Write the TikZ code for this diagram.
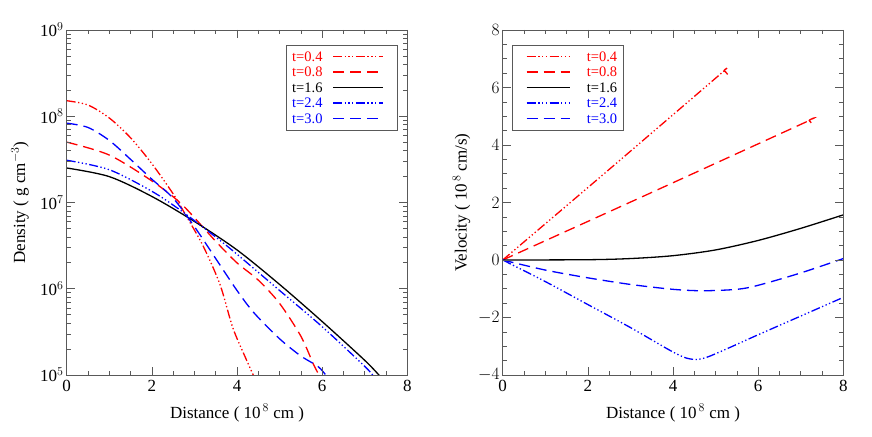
\documentclass[tikz,border=0pt]{standalone}
\usepackage{fontspec}
\setmainfont{Liberation Serif}
\usetikzlibrary{positioning}
\tikzset{
  curve/.style={line width=1.3pt},
  ddot/.style={curve, dash pattern=on 9pt off 2.5pt on 1.3pt off 2.5pt on 1.3pt off 2.5pt on 1.3pt off 2.5pt},
  ldash/.style={curve, dash pattern=on 11pt off 6pt},
  axis/.style={line width=0.6pt, gray!70!black},
  ticklab/.style={font=\fontsize{17}{19}\selectfont, inner sep=1pt},
  axlab/.style={font=\fontsize{17}{19}\selectfont},
  legtext/.style={font=\fontsize{14.5}{16}\selectfont, inner sep=0pt, anchor=west}
}
\begin{document}
\begin{tikzpicture}[x=1pt,y=1pt]
\useasboundingbox (0,0) rectangle (872,436);

% density panel
\begin{scope}[shift={(66.7pt,61pt)}, x=42.575pt, y=86.25pt]
  \begin{scope}
    \clip (0,0) rectangle (8,4);
    \draw[ddot, red] plot[smooth, tension=0.5] coordinates {(0,3.18) (0.5,3.13) (1,2.98) (1.5,2.75) (2,2.45) (2.5,2.1) (2.8,1.85) (3.2,1.5) (3.6,1.05) (3.9,0.55) (4.2,0.2) (4.4,-0.02)};
    \draw[ldash, red] plot[smooth, tension=0.5] coordinates {(0,2.7) (1,2.55) (2,2.25) (2.7,1.98) (3.5,1.55) (4,1.3) (4.5,1.1) (5,0.83) (5.5,0.45) (5.8,0.12) (5.95,-0.02)};
    \draw[curve, black] plot[smooth, tension=0.5] coordinates {(0,2.4) (1,2.3) (2,2.07) (3,1.78) (4,1.45) (5,1.05) (6,0.62) (7,0.17) (7.35,-0.01)};
    \draw[ddot, blue] plot[smooth, tension=0.5] coordinates {(0,2.49) (1,2.38) (2,2.13) (2.7,1.9) (3.5,1.6) (4,1.4) (5,0.98) (6,0.56) (7,0.1) (7.2,-0.01)};
    \draw[ldash, blue] plot[smooth, tension=0.5] coordinates {(0,2.92) (0.5,2.87) (1,2.72) (1.5,2.5) (2,2.27) (2.5,2.05) (3,1.72) (3.5,1.35) (4,0.98) (4.4,0.72) (5,0.42) (5.5,0.22) (5.9,0.1) (6.1,-0.01)};
  \end{scope}
  \draw[axis] (0,0) rectangle (8,4);
  \foreach \i in {0,2,...,8} {
    \draw[axis] (\i,0) -- ++(0,8pt) (\i,4) -- ++(0,-8pt);
    \node[ticklab, below=4pt] (dx\i) at (\i,0) {\i};
  }
  \foreach \i in {0.5,1,...,7.5}
    \draw[axis] (\i,0) -- ++(0,4pt) (\i,4) -- ++(0,-4pt);
  \foreach \e [count=\k from 0] in {5,...,9} {
    \draw[axis] (0,\k) -- ++(8pt,0) (8,\k) -- ++(-8pt,0);
    \node[ticklab, left=2pt] (dy\e) at (0,\k) {10$^{\e}$};
  }
  \foreach \k in {0,...,3}
    \foreach \m in {2,...,9}
      \draw[axis] (0,{\k+log10(\m)}) -- ++(4pt,0) (8,{\k+log10(\m)}) -- ++(-4pt,0);
  \node[axlab] (dxl) at (4,-0.44) {Distance ( 10$^{\,8}$ cm )};
  \node[axlab, rotate=90] (dyl) at (-1.1,2) {Density ( g cm$^{-3}$)};
\end{scope}

% density legend
\draw[axis] (286.7,306) rectangle (397.3,390.3);
\foreach \t/\c/\s [count=\r from 0] in {0.4/red/ddot, 0.8/red/ldash, 1.6/black/curve, 2.4/blue/ddot, 3.0/blue/ldash} {
  \node[legtext, text=\c] (dl\r) at (292,{379.3-15.4*\r}) {t=\t};
  \draw[\s, \c] (333,{379.3-15.4*\r}) -- (383,{379.3-15.4*\r});
}

% velocity panel
\begin{scope}[shift={(502.7pt,176pt)}, x=42.575pt, y=28.75pt]
  \begin{scope}
    \clip (0,-4) rectangle (8,8);
    \draw[ddot, red] plot[smooth, tension=0.5] coordinates {(0,0) (2.5,3.15) (5.1,6.45) (5.2,6.58) (5.3,6.42)};
    \draw[ldash, red] plot[smooth, tension=0.5] coordinates {(0,0) (3.5,2.35) (7.05,4.75) (7.2,4.85) (7.3,4.6)};
    \draw[curve, black] plot[smooth, tension=0.5] coordinates {(0,0) (2,0.01) (3,0.05) (4,0.15) (5,0.35) (6,0.68) (7,1.1) (8,1.57)};
    \draw[ldash, blue] plot[smooth, tension=0.5] coordinates {(0,0) (1,-0.35) (2,-0.62) (3,-0.85) (4,-1.02) (4.7,-1.07) (5.5,-1.02) (6,-0.88) (7,-0.45) (8,0.05)};
    \draw[ddot, blue] plot[smooth, tension=0.5] coordinates {(0,0) (1,-0.75) (2,-1.55) (3,-2.35) (4,-3.2) (4.4,-3.44) (4.8,-3.38) (6,-2.6) (7,-1.95) (8,-1.3)};
  \end{scope}
  \draw[axis] (0,-4) rectangle (8,8);
  \foreach \i in {0,2,...,8} {
    \draw[axis] (\i,-4) -- ++(0,8pt) (\i,8) -- ++(0,-8pt);
    \node[ticklab, below=4pt] (vx\i) at (\i,-4) {\i};
  }
  \foreach \i in {0.5,1,...,7.5}
    \draw[axis] (\i,-4) -- ++(0,4pt) (\i,8) -- ++(0,-4pt);
  \foreach \v [count=\k] in {-4,-2,...,8} {
    \draw[axis] (0,\v) -- ++(8pt,0) (8,\v) -- ++(-8pt,0);
    \node[ticklab, left=2pt] (vy\k) at (0,\v) {$\v$};
  }
  \foreach \v in {-3.5,-3,...,7.5}
    \draw[axis] (0,\v) -- ++(4pt,0) (8,\v) -- ++(-4pt,0);
  \node[axlab] (vxl) at (4,-5.32) {Distance ( 10$^{\,8}$ cm )};
  \node[axlab, rotate=90] (vyl) at (-0.97,2) {Velocity ( 10$^{\,8}$ cm/s)};
\end{scope}

% velocity legend
\draw[axis] (512.7,306) rectangle (623.3,390.3);
\foreach \t/\c/\s [count=\r from 0] in {0.4/red/ddot, 0.8/red/ldash, 1.6/black/curve, 2.4/blue/ddot, 3.0/blue/ldash} {
  \draw[\s, \c] (526.7,{379.3-15.4*\r}) -- (570.3,{379.3-15.4*\r});
  \node[legtext, text=\c] (vl\r) at (586.7,{379.3-15.4*\r}) {t=\t};
}
\end{tikzpicture}
\end{document}
